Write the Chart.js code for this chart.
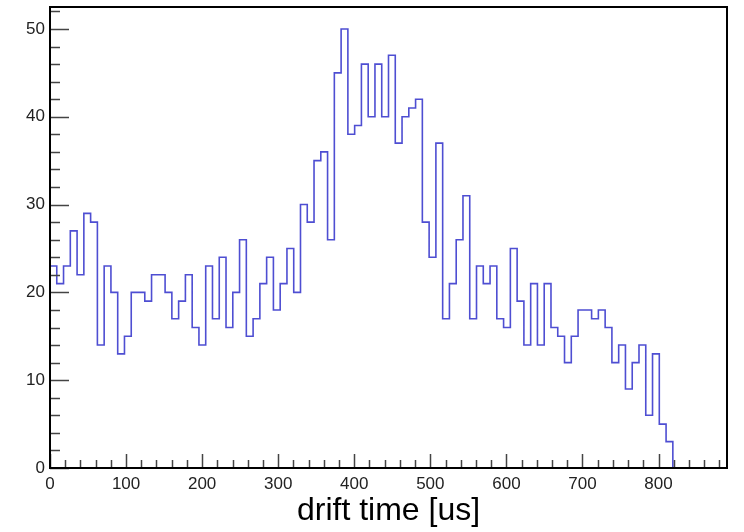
<!DOCTYPE html>
<html><head><meta charset="utf-8">
<script src="https://cdn.jsdelivr.net/npm/chart.js@4.4.1/dist/chart.umd.min.js"></script>
<style>html,body{margin:0;padding:0;background:#fff;}#wrap{width:744px;height:532px;}</style>
</head><body><div id="wrap"><canvas id="c" width="744" height="532"></canvas></div>
<script>
// Histogram: 100 bins over 0..890 us (bin width 8.9), only the first 92 are filled
const binLow = 0;
const binWidth = 8.9;
const xRangeMax = 890;
const counts = [
  23, 21, 23, 27, 22, 29, 28, 14, 23, 20,
  13, 15, 20, 20, 19, 22, 22, 20, 17, 19,
  22, 16, 14, 23, 17, 24, 16, 20, 26, 15,
  17, 21, 24, 18, 21, 25, 20, 30, 28, 35,
  36, 26, 45, 50, 38, 39, 46, 40, 46, 40,
  47, 37, 40, 41, 42, 28, 24, 37, 17, 21,
  26, 31, 17, 23, 21, 23, 17, 16, 25, 19,
  14, 21, 14, 21, 16, 15, 12, 15, 18, 18,
  17, 18, 16, 12, 14, 9, 12, 14, 6, 13,
  5, 3
];
const xTickValues = [0, 100, 200, 300, 400, 500, 600, 700, 800];
const yTickValues = [0, 10, 20, 30, 40, 50];
const yMax = 52.5;
const xMinorStep = 20;
const yMinorStep = 2;
const xTitle = 'drift time [us]';

// outline points: each point = left edge of a bin with its content
const pts = [{x: binLow, y: 0}];
counts.forEach((c, i) => pts.push({x: binLow + i * binWidth, y: c}));
pts.push({x: binLow + counts.length * binWidth, y: 0});
pts.push({x: xRangeMax, y: 0});

const framePlugin = {
  id: 'frame',
  afterDraw(chart) {
    const {ctx, chartArea: a, scales: {x, y}} = chart;
    ctx.save();
    ctx.strokeStyle = '#444';
    ctx.lineWidth = 1.5;
    ctx.beginPath();
    for (let v = x.min; v <= x.max; v += xMinorStep) {
      const px = Math.round(x.getPixelForValue(v)) + 0.5;
      const len = (v % 100 === 0) ? 14 : 8;
      ctx.moveTo(px, a.bottom);
      ctx.lineTo(px, a.bottom - len);
    }
    for (let v = y.min; v <= y.max; v += yMinorStep) {
      const py = Math.round(y.getPixelForValue(v)) + 0.5;
      const len = (v % 10 === 0) ? 19 : 10;
      ctx.moveTo(a.left, py);
      ctx.lineTo(a.left + len, py);
    }
    ctx.stroke();
    ctx.strokeStyle = '#000';
    ctx.lineWidth = 2;
    ctx.strokeRect(a.left, a.top, a.right - a.left, a.bottom - a.top);
    ctx.restore();
  }
};

new Chart(document.getElementById('c'), {
  type: 'line',
  data: {
    datasets: [{
      data: pts,
      stepped: 'before',
      borderColor: 'rgb(78,78,210)',
      borderWidth: 1.6,
      pointRadius: 0,
      fill: false
    }]
  },
  options: {
    responsive: false,
    animation: false,
    devicePixelRatio: 1,
    layout: {padding: {left: 0, right: 17, top: 7, bottom: 0}},
    plugins: {legend: {display: false}, tooltip: {enabled: false}},
    scales: {
      x: {
        type: 'linear',
        min: binLow,
        max: xRangeMax,
        afterFit(s) { s.height = 64; s.paddingLeft = 0; s.paddingRight = 0; },
        afterBuildTicks(s) { s.ticks = xTickValues.map(v => ({value: v})); },
        grid: {display: false, drawTicks: false},
        border: {display: false},
        ticks: {
          autoSkip: false, maxRotation: 0, includeBounds: false,
          padding: 6, color: '#222',
          font: {family: 'Liberation Sans, Arial, sans-serif', size: 17}
        },
        title: {
          display: true, text: xTitle, color: '#000',
          font: {family: 'Liberation Sans, Arial, sans-serif', size: 32, lineHeight: 1},
          padding: {top: 0, bottom: 5}
        }
      },
      y: {
        type: 'linear',
        min: 0,
        max: yMax,
        afterFit(s) { s.width = 50; s.paddingTop = 0; s.paddingBottom = 0; },
        afterBuildTicks(s) { s.ticks = yTickValues.map(v => ({value: v})); },
        grid: {display: false, drawTicks: false},
        border: {display: false},
        ticks: {
          autoSkip: false, includeBounds: false,
          padding: 5, color: '#222',
          font: {family: 'Liberation Sans, Arial, sans-serif', size: 17}
        }
      }
    }
  },
  plugins: [framePlugin]
});
</script>
</body></html>
